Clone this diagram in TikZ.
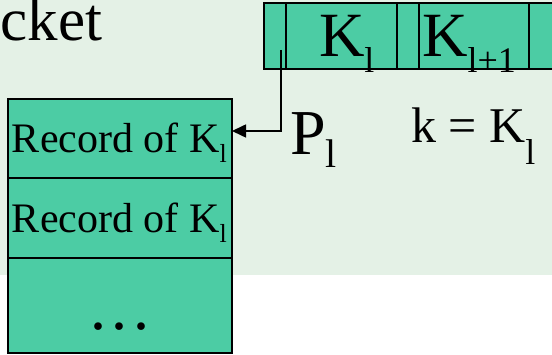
\documentclass[tikz,border=0pt]{standalone}
\usepackage{fontspec}
\setmainfont{Liberation Serif}
\usetikzlibrary{arrows.meta}
\definecolor{bgg}{RGB}{228,241,230}
\definecolor{tealfill}{RGB}{76,204,164}
\begin{document}
\begin{tikzpicture}[x=1pt,y=-1pt,
  cellbox/.style={draw=black,line width=1.6pt,fill=tealfill,inner sep=0pt,outer sep=0pt,anchor=north west},
  recbox/.style={draw=black,line width=1.8pt,fill=tealfill,inner sep=0pt,outer sep=0pt,anchor=north west,minimum width=224pt},
  lbl/.style={inner sep=0pt,outer sep=0pt,anchor=base west,text=black},
  ptrline/.style={draw=black,line width=1.6pt},
]
\useasboundingbox (0,0) rectangle (552,355);
\fill[bgg] (0,0) rectangle (552,275);
\node[lbl] (title) at (0.5,41) {\fontsize{61}{61}\selectfont cket};
% key row
\node[cellbox,minimum width=22pt,minimum height=66pt] (p1) at (264,3) {};
\node[cellbox,minimum width=111pt,minimum height=66pt] (k1) at (286,3) {};
\node[cellbox,minimum width=22pt,minimum height=66pt] (p2) at (397,3) {};
\node[cellbox,minimum width=110pt,minimum height=66pt] (k2) at (419,3) {};
\node[cellbox,minimum width=30pt,minimum height=66pt] (p3) at (529,3) {};
\node[lbl] (k1t) at (319,57) {\fontsize{63}{63}\selectfont K\raisebox{-16pt}{\fontsize{36}{36}\selectfont l}};
\node[lbl] (k2t) at (422,57) {\fontsize{63}{63}\selectfont K\raisebox{-16pt}{\fontsize{36}{36}\selectfont l+1}};
% records
\node[recbox,minimum height=79pt] (rec1) at (8,99) {};
\node[recbox,minimum height=80pt] (rec2) at (8,178) {};
\node[recbox,minimum height=95pt] (rec3) at (8,258) {};
\node[lbl] (r1t) at (12,153) {\fontsize{42}{42}\selectfont Record of K\raisebox{-10pt}{\fontsize{26}{26}\selectfont l}};
\node[lbl] (r2t) at (12,233) {\fontsize{42}{42}\selectfont Record of K\raisebox{-10pt}{\fontsize{26}{26}\selectfont l}};
\node[inner sep=0pt,anchor=base] (dots) at (120,330) {\fontsize{64}{64}\selectfont .\kern6pt.\kern6pt.};
% labels
\node[lbl] (pl) at (290,155) {\fontsize{64}{64}\selectfont P\raisebox{-13pt}{\fontsize{40}{40}\selectfont l}};
\node[lbl] (keq) at (411,143) {\fontsize{50}{50}\selectfont k = K\raisebox{-22pt}{\fontsize{36}{36}\selectfont l}};
% pointer
\coordinate (ptr) at (281,50);
\coordinate (bend) at (281,131);
\draw[ptrline,-{Triangle[length=14pt,width=13pt]}] (ptr) -- (bend) -- (bend -| rec1.east);
\end{tikzpicture}
\end{document}
